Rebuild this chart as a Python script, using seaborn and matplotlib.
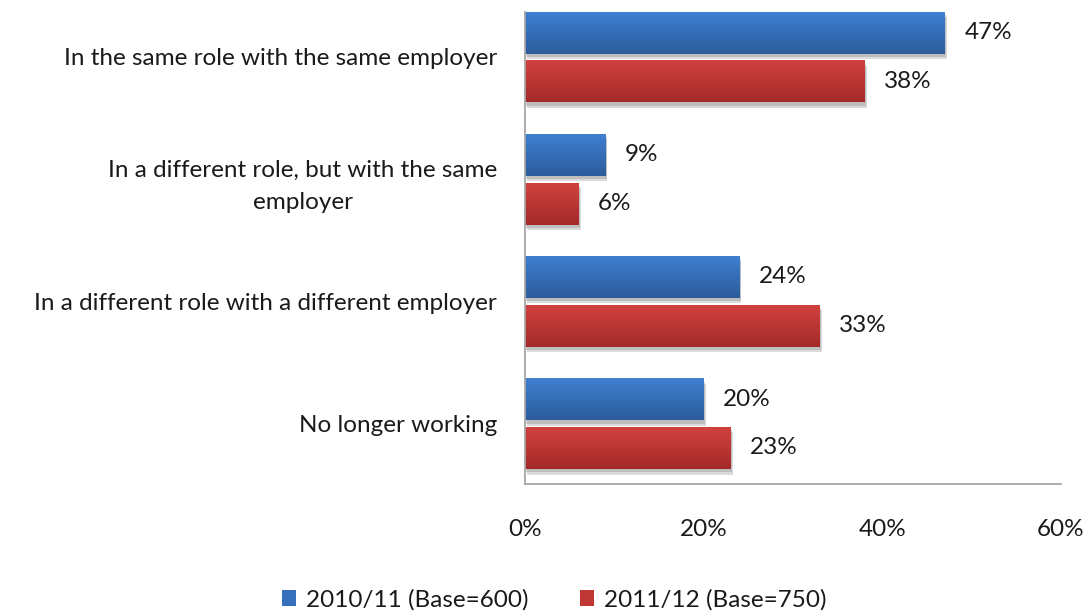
import numpy as np
import pandas as pd
import matplotlib
matplotlib.use("Agg")
import matplotlib.pyplot as plt
import matplotlib.patheffects as pe
from matplotlib.colors import LinearSegmentedColormap
from matplotlib.patches import Patch
import seaborn as sns

categories = [
    "In the same role with the same employer",
    "In a different role, but with the same\nemployer",
    "In a different role with a different employer",
    "No longer working",
]
series = ["2010/11 (Base=600)", "2011/12 (Base=750)"]
values_2010 = [47, 9, 24, 20]
values_2011 = [38, 6, 33, 23]
x_ticks = [0, 20, 40, 60]

df = pd.DataFrame({
    "category": categories * 2,
    "series": [series[0]] * 4 + [series[1]] * 4,
    "value": values_2010 + values_2011,
})

blue_top, blue_bot = "#3F80D2", "#2C5C9C"
red_top, red_bot = "#D2423F", "#A32A29"
palette = {series[0]: "#3670BC", series[1]: "#C03836"}
FS = 17.5
TXT = "#1a1a1a"

sns.set_theme(style="white")
plt.rcParams["font.family"] = ["Lato", "DejaVu Sans"]

fig = plt.figure(figsize=(10.9, 6.12), dpi=100)
ax = fig.add_axes([525 / 1090, 1 - 484 / 612, (1061 - 525) / 1090, (484 - 12) / 612])

sns.barplot(data=df, y="category", x="value", hue="series", order=categories,
            hue_order=series, palette=palette, orient="h", width=0.80, gap=0.14,
            legend=False, ax=ax, linewidth=0)

# gradient fill and soft drop shadow for each bar
grad = np.linspace(0, 1, 64).reshape(-1, 1)
for bars, (top, bot) in zip(ax.containers, [(blue_top, blue_bot), (red_top, red_bot)]):
    cmap = LinearSegmentedColormap.from_list("g", [top, bot])
    for p in bars:
        x0, y0 = p.get_x(), p.get_y()
        w, h = p.get_width(), p.get_height()
        p.set_path_effects([
            pe.SimplePatchShadow(offset=(1.5, -4), shadow_rgbFace="#9a9a9a", alpha=0.35),
            pe.SimplePatchShadow(offset=(1, -2.5), shadow_rgbFace="#8a8a8a", alpha=0.35),
            pe.Normal(),
        ])
        im = ax.imshow(grad, cmap=cmap, aspect="auto", extent=(x0, x0 + w, y0 + h, y0),
                       origin="upper", zorder=p.get_zorder() + 0.1, interpolation="bilinear")
        im.set_clip_path(p)
    ax.bar_label(bars, labels=[f"{v:.0f}%" for v in bars.datavalues], padding=14,
                 fontsize=FS, color=TXT)

ax.set_xlim(0, 60)
ax.set_ylim(3.495, -0.368)

ax.set_xticks(x_ticks)
ax.set_xticklabels([f"{t}%" for t in x_ticks])
ax.set_xlabel("")
ax.set_ylabel("")
ax.tick_params(axis="x", length=0, pad=25, labelsize=FS, labelcolor=TXT)
ax.tick_params(axis="y", length=0, pad=20, labelsize=FS, labelcolor=TXT)
for lab in ax.get_yticklabels():
    lab.set_multialignment("center")
    lab.set_linespacing(1.65)

for side in ["top", "right"]:
    ax.spines[side].set_visible(False)
for side in ["left", "bottom"]:
    ax.spines[side].set_color("#a6a6a6")
    ax.spines[side].set_linewidth(1.3)

handles = [Patch(facecolor=palette[s], edgecolor="none") for s in series]
fig.legend(handles, series, loc="center", bbox_to_anchor=(554 / 1090, 1 - 600 / 612),
           ncol=2, frameon=False, fontsize=FS, handlelength=0.6, handleheight=0.6,
           handletextpad=0.4, columnspacing=2.1, labelcolor=TXT)

fig.savefig("out.png", dpi=100, facecolor="white")
